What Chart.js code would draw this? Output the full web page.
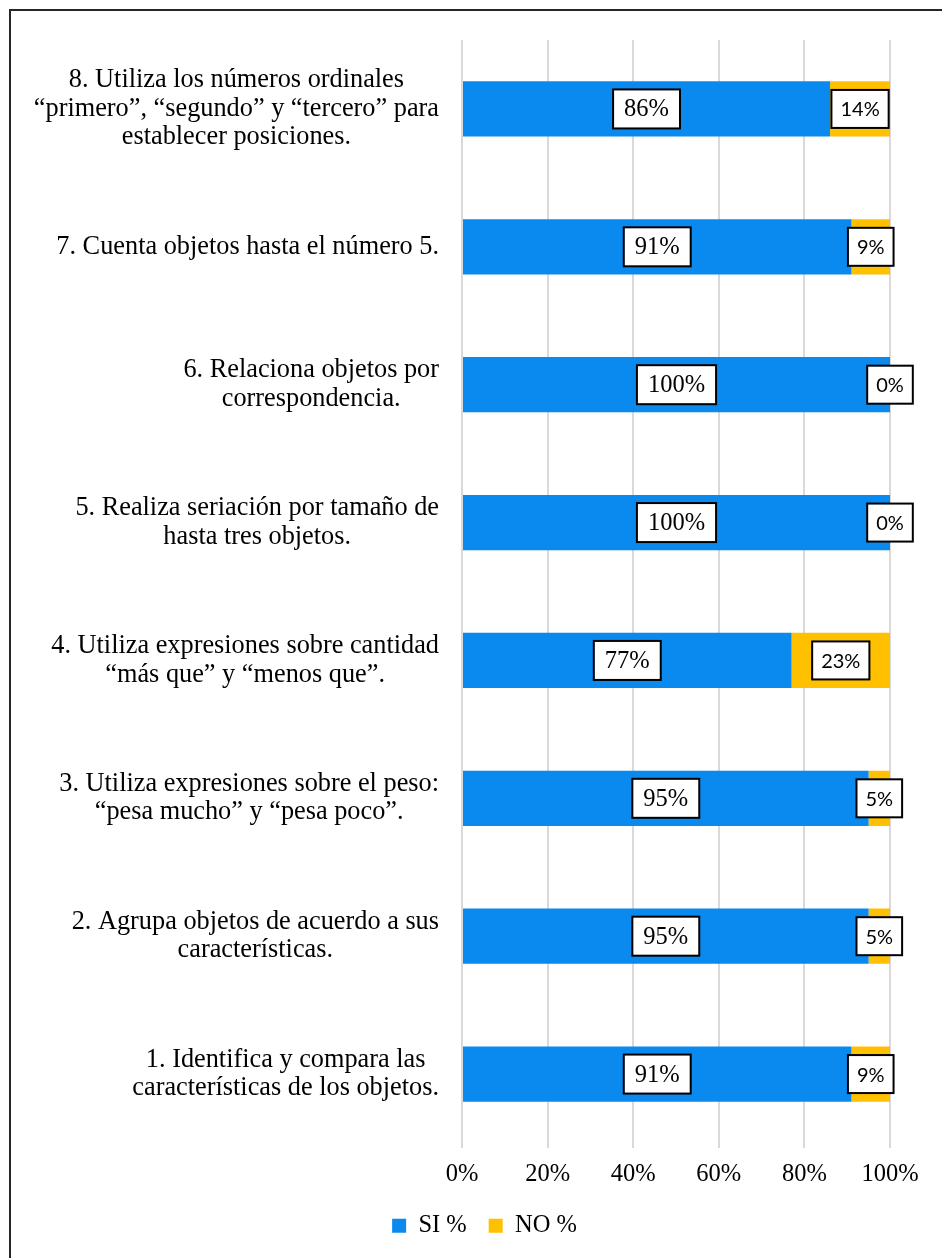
<!DOCTYPE html>
<html lang="es">
  <head>
    <meta charset="utf-8" />
    <title>Resultados por indicador</title>
    <style>
      body { margin: 0; background: #fff; }
      #wrap { position: relative; width: 942px; height: 1258px; overflow: hidden; }
      #frame {
        position: absolute; left: 9px; top: 9px; width: 1000px; height: 1300px;
        border-left: 2px solid #262626; border-top: 2px solid #262626;
      }
      #bar-chart { position: absolute; left: 0; top: 0; }
    </style>
  </head>
  <body>
    <div id="wrap">
      <div id="frame"></div>
      <canvas id="bar-chart" width="942" height="1258"></canvas>
    </div>

    <script src="https://cdn.jsdelivr.net/npm/chart.js@4.4.0/dist/chart.umd.min.js"></script>
    <script>
      // indicators listed top to bottom (8 down to 1)
      const CATEGORIES = [
        ["8. Utiliza los números ordinales", "“primero”, “segundo” y “tercero” para", "establecer posiciones."],
        ["7. Cuenta objetos hasta el número 5."],
        ["6. Relaciona objetos por", "correspondencia."],
        ["5. Realiza seriación por tamaño de", "hasta tres objetos."],
        ["4. Utiliza expresiones sobre cantidad", "“más que” y “menos que”."],
        ["3. Utiliza expresiones sobre el peso:", "“pesa mucho” y “pesa poco”."],
        ["2. Agrupa objetos de acuerdo a sus", "características."],
        ["1. Identifica y compara las", "características de los objetos."],
      ];

      const SI_VALUES = [86, 91, 100, 100, 77, 95, 95, 91];
      const NO_VALUES = [14, 9, 0, 0, 23, 5, 5, 9];

      const SERIES_NAMES = ["SI %", "NO %"];
      const X_TICKS = [0, 20, 40, 60, 80, 100];

      const BLUE = "#0a89ee";
      const GOLD = "#ffc000";
      const SERIF = "'Liberation Serif', 'Times New Roman', serif";
      const SANS = "Lato, 'Liberation Sans', sans-serif";

      // category labels: each block right aligned, lines centred inside it
      const categoryLabels = {
        id: "categoryLabels",
        afterDraw(chart) {
          const ctx = chart.ctx;
          const yScale = chart.scales.y;
          const right = 439;
          const lineH = 28.5;
          ctx.save();
          ctx.font = "26.3px " + SERIF;
          ctx.fillStyle = "#000";
          ctx.textAlign = "center";
          ctx.textBaseline = "middle";
          CATEGORIES.forEach((lines, i) => {
            const y = yScale.getPixelForTick(i);
            const widest = Math.max(...lines.map((l) => ctx.measureText(l).width));
            const cx = right - widest / 2;
            const startY = y - ((lines.length - 1) * lineH) / 2;
            lines.forEach((l, k) => ctx.fillText(l, cx, startY + k * lineH));
          });
          ctx.restore();
        },
      };

      // value labels in white boxes over each segment
      const boxedValues = {
        id: "boxedValues",
        afterDatasetsDraw(chart) {
          const ctx = chart.ctx;
          ctx.save();
          chart.data.datasets.forEach((ds, di) => {
            const meta = chart.getDatasetMeta(di);
            const font = di === 0 ? "24.5px " + SERIF : "20px " + SANS;
            const padX = di === 0 ? 11 : 9;
            const boxH = di === 0 ? 39 : 38;
            meta.data.forEach((bar, i) => {
              const text = ds.data[i] + "%";
              ctx.font = font;
              const w = ctx.measureText(text).width + padX * 2;
              const cx = (bar.x + bar.base) / 2;
              const cy = bar.y;
              ctx.fillStyle = "#fff";
              ctx.fillRect(cx - w / 2, cy - boxH / 2, w, boxH);
              ctx.lineWidth = 2;
              ctx.strokeStyle = "#000";
              ctx.strokeRect(cx - w / 2, cy - boxH / 2, w, boxH);
              ctx.fillStyle = "#000";
              ctx.textAlign = "center";
              ctx.textBaseline = "middle";
              ctx.fillText(text, cx, cy + 1);
            });
          });
          ctx.restore();
        },
      };

      new Chart(document.getElementById("bar-chart"), {
        type: "bar",
        data: {
          labels: CATEGORIES,
          datasets: [
            { label: SERIES_NAMES[0], data: SI_VALUES, backgroundColor: BLUE },
            { label: SERIES_NAMES[1], data: NO_VALUES, backgroundColor: GOLD },
          ],
        },
        options: {
          indexAxis: "y",
          responsive: false,
          animation: false,
          devicePixelRatio: 1,
          layout: { padding: { left: 79, right: 52, top: 40, bottom: 10 } },
          datasets: { bar: { barPercentage: 0.4, categoryPercentage: 1 } },
          scales: {
            x: {
              stacked: true,
              min: 0,
              max: 100,
              afterBuildTicks: (scale) => {
                scale.ticks = X_TICKS.map((v) => ({ value: v }));
              },
              afterFit: (scale) => {
                scale.height = 48.5;
              },
              border: { display: false },
              grid: { color: "#d9d9d9", lineWidth: 2, tickLength: 5 },
              ticks: {
                padding: 12,
                color: "#000",
                font: { family: SERIF, size: 24.5 },
                callback: (v) => v + "%",
              },
            },
            y: {
              stacked: true,
              border: { display: false },
              grid: { display: false },
              ticks: { display: false },
              afterFit: (scale) => {
                scale.width = 462 - 79;
              },
            },
          },
          plugins: {
            legend: {
              position: "bottom",
              labels: {
                boxWidth: 14,
                boxHeight: 14,
                padding: 22,
                color: "#000",
                font: { family: SERIF, size: 24.5 },
              },
            },
            tooltip: { enabled: false },
          },
        },
        plugins: [categoryLabels, boxedValues],
      });
    </script>
  </body>
</html>
